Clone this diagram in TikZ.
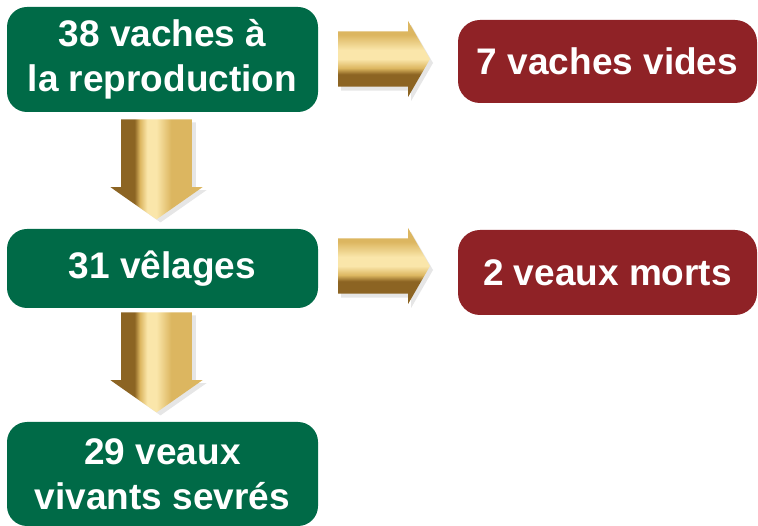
\documentclass[tikz,border=0pt]{standalone}
\usepackage{fontspec}
\setmainfont{Liberation Sans}
\usetikzlibrary{shapes.arrows,shadows}

\definecolor{vert}{RGB}{0,106,71}
\definecolor{rouge}{RGB}{143,34,38}
\definecolor{orclair}{RGB}{250,230,170}
\definecolor{or}{RGB}{220,182,96}
\definecolor{orfonce}{RGB}{140,100,35}

% degrades des fleches
\pgfdeclareverticalshading{ordroite}{100bp}{color(0bp)=(orfonce); color(40bp)=(orfonce); color(44bp)=(or); color(50bp)=(orclair); color(56bp)=(orclair); color(66bp)=(or); color(100bp)=(or)}
\pgfdeclarehorizontalshading{orbas}{100bp}{color(0bp)=(orfonce); color(38bp)=(orfonce); color(41bp)=(or); color(45bp)=(orclair); color(50bp)=(orclair); color(58bp)=(or); color(100bp)=(or)}

\begin{document}
\begin{tikzpicture}[x=1pt, y=-1pt,
    etape/.style = {fill=vert, text=white, rounded corners=20pt, align=center, minimum width=311pt, font=\bfseries\fontsize{37}{45}\selectfont},
    perte/.style = {etape, fill=rouge, rounded corners=22pt, minimum width=299pt},
    droite/.style = {single arrow, inner sep=19pt, minimum height=92pt, minimum width=76pt, single arrow tip angle=120,
        shading=ordroite, drop shadow={opacity=0.2, shadow xshift=3pt, shadow yshift=-4pt}},
    bas/.style = {single arrow, shape border rotate=270, inner sep=23.5pt, minimum height=100pt, minimum width=92pt, single arrow tip angle=110,
        shading=orbas, drop shadow={opacity=0.2, shadow xshift=4pt, shadow yshift=-3pt}}]
    \useasboundingbox (0,0) rectangle (758,526);
    \node[etape, minimum height=105pt] (1) at (162.5,59.5) {38 vaches à\\la reproduction};
    \node[etape, minimum height=79pt] (2) at (162.5,268.5) {31 vêlages};
    \node[etape, minimum height=104pt] (3) at (162.5,474) {29 veaux\\vivants sevrés};
    \node[perte, minimum height=83pt] (4) at (607.5,61.5) {7 vaches vides};
    \node[perte, minimum height=85pt] (5) at (607.5,272.5) {2 veaux morts};
    % fleches
    \node[droite] (a1) at (376,59) {};
    \node[droite] (a2) at (376,266) {};
    \node[bas] (b1) at (156.5,157) {};
    \node[bas] (b2) at (156.5,350) {};
\end{tikzpicture}
\end{document}
